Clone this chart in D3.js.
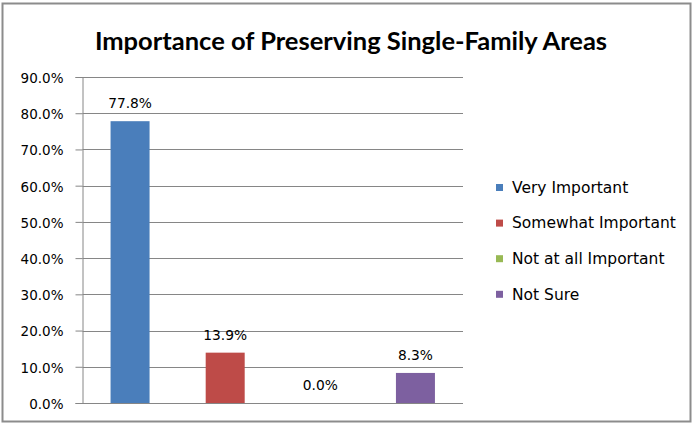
<!DOCTYPE html>
<html><head><meta charset="utf-8">
<script src="https://cdn.jsdelivr.net/npm/d3@7"></script>
<style>body{margin:0;background:#fff;} svg{display:block;}</style>
</head><body>
<svg id="c" width="693" height="424"></svg>
<script>
const title = "Importance of Preserving Single-Family Areas";
const categories = ["Very Important", "Somewhat Important", "Not at all Important", "Not Sure"];
const values = [77.8, 13.9, 0.0, 8.3];
const colors = ["#4a7ebb", "#be4b48", "#98b954", "#7d60a0"];
const yTicks = [0, 10, 20, 30, 40, 50, 60, 70, 80, 90];

(function () {
const svg = d3.select("#c");
svg.append("rect").attr("x", 2.5).attr("y", 3.5).attr("width", 688).attr("height", 418)
  .attr("fill", "#fff").attr("stroke", "#8c8c8c").attr("stroke-width", 2);

const pLeft = 82.5, pRight = 463, pTop = 77, pBottom = 403;
const x = d3.scaleBand().domain(categories).range([pLeft, pRight]).paddingInner(0.59).paddingOuter(0.295);
const y = d3.scaleLinear().domain([0, 90]).range([pBottom, pTop]);

svg.append("text").attr("x", 351).attr("y", 50).attr("text-anchor", "middle")
  .attr("font-family", "Lato, 'Open Sans', sans-serif").attr("font-weight", "bold")
  .attr("font-size", 25.5).attr("fill", "#000").text(title);

// gridlines
svg.append("g").selectAll("line").data(yTicks.filter(d => d > 0)).join("line")
  .attr("x1", pLeft).attr("x2", pRight).attr("y1", d => Math.round(y(d)) + 0.5).attr("y2", d => Math.round(y(d)) + 0.5)
  .attr("stroke", "#868686").attr("stroke-width", 1);

const yAxis = d3.axisLeft(y).tickValues(yTicks).tickSize(7).tickFormat(d => d.toFixed(1) + "%");
const ga = svg.append("g").attr("transform", `translate(${pLeft},0)`).call(yAxis);
ga.select(".domain").attr("stroke", "#868686");
ga.selectAll(".tick line").attr("stroke", "#868686");
ga.selectAll(".tick text").attr("font-family", "'DejaVu Sans', Verdana, sans-serif").attr("font-size", 13.5)
  .attr("fill", "#000").attr("x", -19).attr("dy", "0.4em");

// bars
svg.append("g").selectAll("rect").data(values).join("rect")
  .attr("x", (d, i) => x(categories[i])).attr("width", x.bandwidth())
  .attr("y", d => y(d)).attr("height", d => y(0) - y(d))
  .attr("fill", (d, i) => colors[i]);

// x axis line
svg.append("line").attr("x1", pLeft).attr("x2", pRight).attr("y1", pBottom + 0.5).attr("y2", pBottom + 0.5)
  .attr("stroke", "#868686");

// data labels
svg.append("g").selectAll("text").data(values).join("text")
  .attr("x", (d, i) => x(categories[i]) + x.bandwidth() / 2)
  .attr("y", d => y(d) - 13)
  .attr("text-anchor", "middle")
  .attr("font-family", "'DejaVu Sans', Verdana, sans-serif").attr("font-size", 13.8).attr("fill", "#000")
  .text(d => d.toFixed(1) + "%");

// legend
const lg = svg.append("g").selectAll("g").data(categories).join("g")
  .attr("transform", (d, i) => `translate(496, ${187 + i * 35.6})`);
lg.append("rect").attr("x", 0).attr("y", -3).attr("width", 7).attr("height", 7).attr("fill", (d, i) => colors[i]);
lg.append("text").attr("x", 16).attr("y", 0).attr("dy", "0.38em")
  .attr("font-family", "'DejaVu Sans', Verdana, sans-serif").attr("font-size", 15.5).attr("fill", "#000")
  .text(d => d);
})();
</script>
</body></html>
